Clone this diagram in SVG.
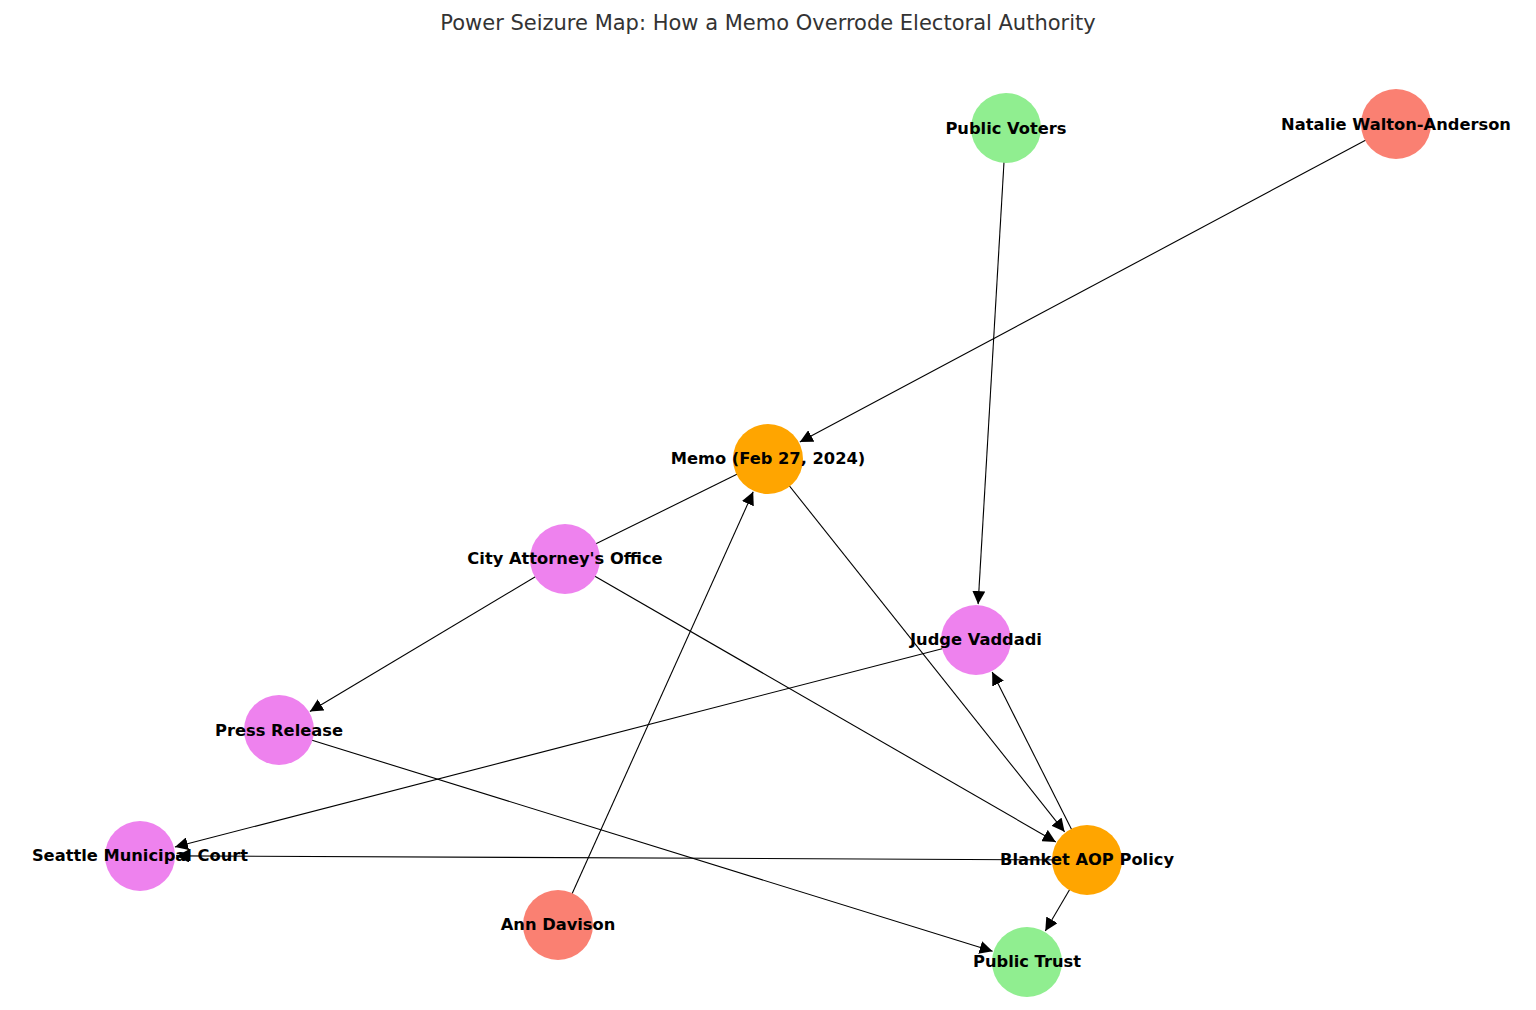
<svg xmlns="http://www.w3.org/2000/svg" width="1536" height="1010" viewBox="0 0 1536 1010">
<style>
.edge{stroke:#000;stroke-width:1.1;fill:none}
.arr{marker-end:url(#ah)}
.lbl{font-family:"DejaVu Sans",sans-serif;font-weight:bold;font-size:16.3px;fill:#000;text-anchor:middle;dominant-baseline:central}
.title{font-family:"DejaVu Sans",sans-serif;font-size:21px;fill:#333;text-anchor:middle}
.g{fill:#90EE90}.s{fill:#FA8072}.o{fill:#FFA500}.v{fill:#EE82EE}
</style>
<defs>
<marker id="ah" markerUnits="userSpaceOnUse" markerWidth="13" markerHeight="13" refX="13" refY="6.5" orient="auto" viewBox="0 0 13 13">
<path d="M0,0 L13,6.5 L0,13 z" fill="#000"/>
</marker>
</defs>
<rect width="1536" height="1010" fill="#fff"/>
<text class="title" x="768" y="30">Power Seizure Map: How a Memo Overrode Electoral Authority</text>
<g id="edges">
<line class="edge arr" x1="1006" y1="128" x2="978.1" y2="604.1"/>
<line class="edge arr" x1="1396" y1="124" x2="799.8" y2="442.1"/>
<line class="edge" x1="565" y1="559" x2="768" y2="459"/>
<line class="edge arr" x1="558" y1="925" x2="753.2" y2="491.8"/>
<line class="edge arr" x1="768" y1="459" x2="1064.6" y2="831.8"/>
<line class="edge arr" x1="565" y1="559" x2="309.9" y2="711.5"/>
<line class="edge arr" x1="565" y1="559" x2="1055.8" y2="842"/>
<line class="edge arr" x1="1087" y1="860" x2="992.2" y2="672.1"/>
<line class="edge arr" x1="976" y1="640" x2="174.9" y2="847"/>
<line class="edge arr" x1="1087" y1="860" x2="176" y2="855.9"/>
<line class="edge arr" x1="279" y1="730" x2="992.6" y2="951.3"/>
<line class="edge arr" x1="1087" y1="860" x2="1045.3" y2="931"/>
</g>
<g id="node-public-voters"><circle class="g" cx="1006" cy="128" r="35"/><text class="lbl" x="1006" y="128">Public Voters</text></g>
<g id="node-natalie"><circle class="s" cx="1396" cy="124" r="35"/><text class="lbl" x="1396" y="124">Natalie Walton-Anderson</text></g>
<g id="node-memo"><circle class="o" cx="768" cy="459" r="35"/><text class="lbl" x="768" y="458">Memo (Feb 27, 2024)</text></g>
<g id="node-city-attorney"><circle class="v" cx="565" cy="559" r="35"/><text class="lbl" x="565" y="558">City Attorney's Office</text></g>
<g id="node-judge"><circle class="v" cx="976" cy="640" r="35"/><text class="lbl" x="976" y="639">Judge Vaddadi</text></g>
<g id="node-press"><circle class="v" cx="279" cy="730" r="35"/><text class="lbl" x="279" y="730">Press Release</text></g>
<g id="node-seattle-court"><circle class="v" cx="140" cy="856" r="35"/><text class="lbl" x="140" y="855">Seattle Municipal Court</text></g>
<g id="node-blanket"><circle class="o" cx="1087" cy="860" r="35"/><text class="lbl" x="1087" y="859">Blanket AOP Policy</text></g>
<g id="node-ann"><circle class="s" cx="558" cy="925" r="35"/><text class="lbl" x="558" y="924">Ann Davison</text></g>
<g id="node-public-trust"><circle class="g" cx="1027" cy="962" r="35"/><text class="lbl" x="1027" y="961">Public Trust</text></g>
</svg>
